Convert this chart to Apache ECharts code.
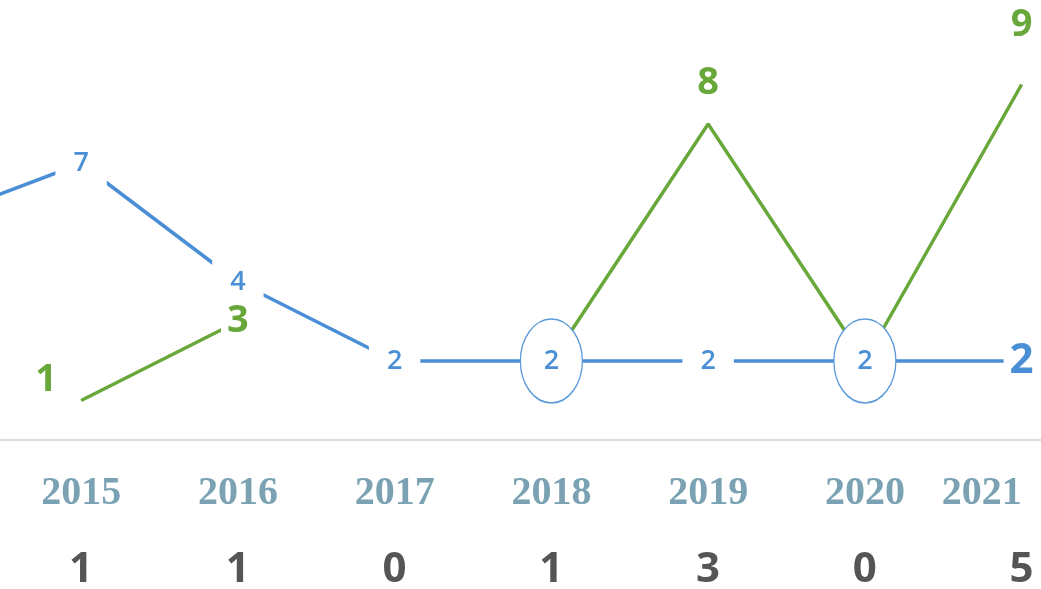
<!DOCTYPE html>
<html>
<head>
<meta charset="utf-8">
<script src="https://cdn.jsdelivr.net/npm/echarts@6/dist/echarts.min.js"></script>
<style>
  html, body { margin: 0; padding: 0; background: #fff; }
  #chart { width: 1041px; height: 589px; }
</style>
</head>
<body>
<div id="chart"></div>
<script>
// 2014 sits just off the left edge, only its line stub shows
const years = ['2014', '2015', '2016', '2017', '2018', '2019', '2020', '2021'];
const blueValues = [5.5, 7, 4, 2, 2, 2, 2, 2];
const greenValues = [null, 1, 3, null, 2, 8, 2, 9];
const counts = ['', '1', '1', '0', '1', '3', '0', '5'];
const circledYears = ['2018', '2020'];

const blue = '#4a8fd6';
const green = '#68a83a';

const blueData = blueValues.map((v, i) => {
  const item = { value: v };
  if (circledYears.includes(years[i])) item.label = { show: false };
  if (i === years.length - 1) {
    item.label = { fontSize: 42, fontWeight: 700, padding: [0, 6] };
  }
  return item;
});

const greenData = greenValues.map((v, i) => {
  const item = { value: v };
  if (circledYears.includes(years[i])) item.label = { show: false };
  if (i === 1) item.label = { position: 'left', distance: 14, offset: [0, -20] };
  if (i === 2) item.label = { position: 'inside', padding: [0, 6] };
  if (i === years.length - 1) item.label = { distance: 36 };
  return item;
});

const circleMarks = circledYears.map(y => ({
  coord: [y, blueValues[years.indexOf(y)]],
  value: blueValues[years.indexOf(y)]
}));

const chart = echarts.init(document.getElementById('chart'));
chart.setOption({
  animation: false,
  grid: { left: -154, right: -59, top: 45, bottom: 149, containLabel: false, outerBoundsMode: 'none' },
  xAxis: [{
    type: 'category',
    data: years,
    axisLine: { lineStyle: { color: '#dcdcdc', width: 2 } },
    axisTick: { show: false },
    axisLabel: {
      interval: 0, margin: 34, fontSize: 40, fontWeight: 700,
      fontFamily: 'Liberation Serif', color: '#7aa2b3',
      alignMaxLabel: 'right'
    }
  }, {
    type: 'category',
    data: years,
    position: 'bottom',
    axisLine: { show: false },
    axisTick: { show: false },
    axisLabel: {
      interval: 0, margin: 109, fontSize: 42, fontWeight: 700,
      fontFamily: 'Open Sans', color: '#555',
      formatter: (v, i) => counts[i]
    }
  }],
  yAxis: { type: 'value', min: 0, max: 10, show: false, splitLine: { show: false } },
  series: [{
    name: 'green',
    type: 'line',
    z: 2,
    data: greenData,
    symbol: 'circle', symbolSize: 0.1,
    lineStyle: { color: green, width: 3.5 },
    itemStyle: { color: green },
    label: {
      show: true, position: 'top', distance: 18,
      color: green, fontSize: 38, fontWeight: 700, fontFamily: 'Open Sans',
      backgroundColor: '#fff', padding: [4, 10]
    }
  }, {
    name: 'blue',
    type: 'line',
    z: 3,
    data: blueData,
    symbol: 'circle', symbolSize: 0.1,
    lineStyle: { color: blue, width: 3.5 },
    itemStyle: { color: blue },
    label: {
      show: true, position: 'inside',
      color: blue, fontSize: 27, fontWeight: 600, fontFamily: 'Open Sans',
      backgroundColor: '#fff', padding: [8, 18]
    },
    markPoint: {
      symbol: 'circle',
      symbolSize: [62, 84],
      itemStyle: { color: '#fff', borderColor: '#5b9bd9', borderWidth: 1.5 },
      label: {
        show: true, color: blue, fontSize: 27, fontWeight: 600, fontFamily: 'Open Sans'
      },
      data: circleMarks
    }
  }]
});
</script>
</body>
</html>
